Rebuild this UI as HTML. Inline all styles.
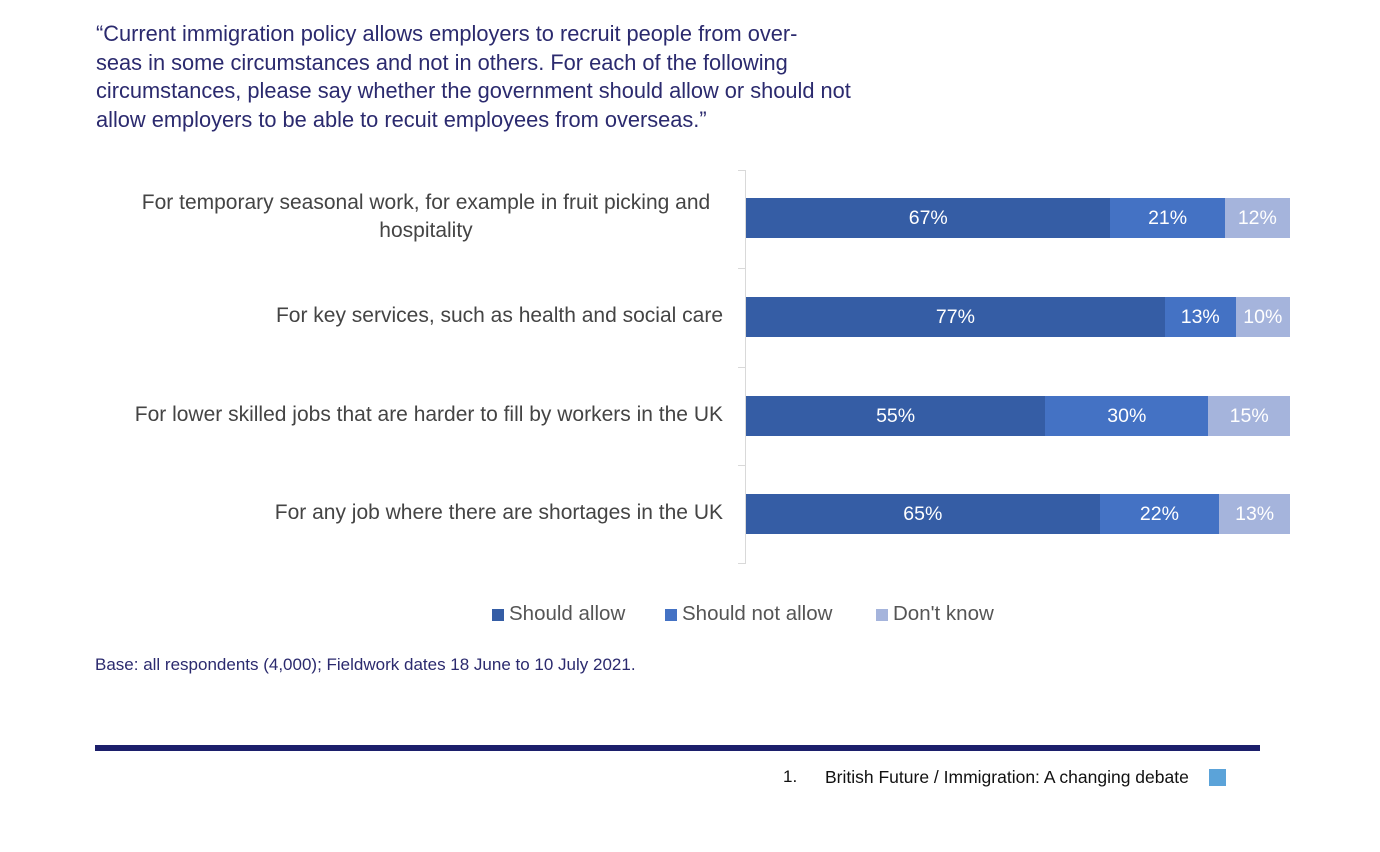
<!DOCTYPE html>
<html><head><meta charset="utf-8"><style>
body{margin:0;width:1380px;height:852px;background:#fff;position:relative;overflow:hidden;font-family:"Liberation Sans",sans-serif}
.q{position:absolute;left:96px;top:20px;width:800px;color:#2b2a6e;font-size:21.8px;line-height:28.5px;white-space:nowrap}
.lab{position:absolute;right:657px;color:#444;font-size:21px;text-align:center;line-height:28px}
.bar{position:absolute;left:746px;width:544px;height:40px;display:flex}
.bar div{height:100%;color:#fff;font-size:19.5px;display:flex;align-items:center;justify-content:center}
.a{background:#355da5}.b{background:#4472c4}.c{background:#a5b4dc}
.ax{position:absolute;left:745px;top:170px;width:1px;height:394px;background:#d9d9d9}
.tk{position:absolute;left:738px;width:8px;height:1px;background:#d9d9d9}
.leg{position:absolute;top:602px;font-size:20.5px;color:#555}
.leg span{display:inline-block;width:12px;height:12px;margin-right:5px;vertical-align:-1px}
</style></head><body>
<div class="q">“Current immigration policy allows employers to recruit people from over-<br>seas in some circumstances and not in others. For each of the following<br>circumstances, please say whether the government should allow or should not<br>allow employers to be able to recuit employees from overseas.”</div>
<div class="ax"></div>
<div class="tk" style="top:170px"></div><div class="tk" style="top:268px"></div><div class="tk" style="top:367px"></div><div class="tk" style="top:465px"></div><div class="tk" style="top:563px"></div>
<div class="lab" style="top:189px;width:594px;white-space:nowrap">For temporary seasonal work, for example in fruit picking and<br>hospitality</div>
<div class="lab" style="top:302px;white-space:nowrap">For key services, such as health and social care</div>
<div class="lab" style="top:401px;white-space:nowrap">For lower skilled jobs that are harder to fill by workers in the UK</div>
<div class="lab" style="top:499px;white-space:nowrap">For any job where there are shortages in the UK</div>
<div class="bar" style="top:198px"><div class="a" style="width:67%">67%</div><div class="b" style="width:21%">21%</div><div class="c" style="width:12%">12%</div></div>
<div class="bar" style="top:297px"><div class="a" style="width:77%">77%</div><div class="b" style="width:13%">13%</div><div class="c" style="width:10%">10%</div></div>
<div class="bar" style="top:396px"><div class="a" style="width:55%">55%</div><div class="b" style="width:30%">30%</div><div class="c" style="width:15%">15%</div></div>
<div class="bar" style="top:494px"><div class="a" style="width:65%">65%</div><div class="b" style="width:22%">22%</div><div class="c" style="width:13%">13%</div></div>
<div class="leg" style="left:492px"><span class="a"></span>Should allow</div>
<div class="leg" style="left:665px"><span class="b"></span>Should not allow</div>
<div class="leg" style="left:876px"><span class="c"></span>Don't know</div>
<div style="position:absolute;left:95px;top:655px;font-size:17px;color:#2b2a6e">Base: all respondents (4,000); Fieldwork dates 18 June to 10 July 2021.</div>
<div style="position:absolute;left:95px;top:745px;width:1165px;height:6px;background:#1c1f6b"></div>
<div style="position:absolute;left:783px;top:767px;font-size:17px;color:#111">1.</div>
<div style="position:absolute;left:825px;top:767px;font-size:17.5px;color:#111">British Future / Immigration: A changing debate</div>
<div style="position:absolute;left:1209px;top:769px;width:17px;height:17px;background:#5ba3d9"></div>
</body></html>
